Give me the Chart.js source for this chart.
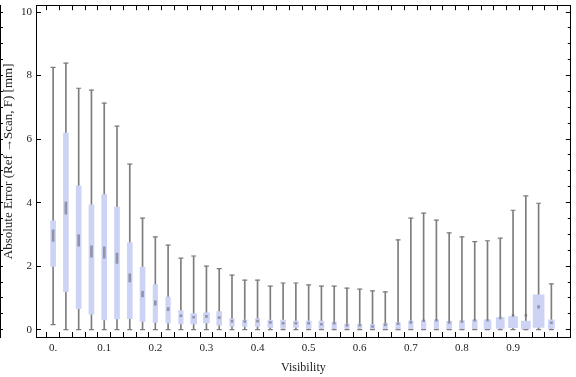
<!DOCTYPE html>
<html>
<head>
<meta charset="utf-8">
<script src="https://cdn.jsdelivr.net/npm/chart.js@4/dist/chart.umd.min.js"></script>
<style>
  html, body { margin: 0; padding: 0; background: #fff; }
  #wrap { width: 576px; height: 377px; }
</style>
</head>
<body>
<div id="wrap"><canvas id="c" width="576" height="377"></canvas></div>
<script>
// ---- data ----
const visibility = [0, 0.025, 0.05, 0.075, 0.1, 0.125, 0.15, 0.175, 0.2, 0.225,
  0.25, 0.275, 0.3, 0.325, 0.35, 0.375, 0.4, 0.425, 0.45, 0.475,
  0.5, 0.525, 0.55, 0.575, 0.6, 0.625, 0.65, 0.675, 0.7, 0.725,
  0.75, 0.775, 0.8, 0.825, 0.85, 0.875, 0.9, 0.925, 0.95, 0.975];
const whiskerLow = [0.16, 0, 0, 0, 0, 0, 0, 0, 0, 0,
  0, 0, 0, 0, 0, 0, 0, 0, 0, 0,
  0, 0, 0, 0, 0, 0, 0, 0, 0, 0,
  0, 0, 0, 0, 0, 0, 0, 0, 0, 0];
const quartile1 = [1.99, 1.20, 0.66, 0.49, 0.31, 0.34, 0.35, 0.26, 0.23, 0.21,
  0.18, 0.18, 0.21, 0.14, 0.10, 0.10, 0.10, 0.07, 0.04, 0.07,
  0.04, 0.04, 0.04, 0.04, 0.04, 0.03, 0.02, 0.02, 0.02, 0.02,
  0.02, 0.02, 0.02, 0.02, 0.02, 0.04, 0.06, 0.00, 0.07, 0.04];
const median = [2.96, 3.83, 2.81, 2.46, 2.43, 2.25, 1.63, 1.12, 0.84, 0.65,
  0.44, 0.39, 0.42, 0.38, 0.27, 0.26, 0.27, 0.23, 0.20, 0.20,
  0.20, 0.17, 0.20, 0.14, 0.14, 0.10, 0.16, 0.19, 0.23, 0.28,
  0.30, 0.23, 0.26, 0.30, 0.30, 0.37, 0.45, 0.45, 0.72, 0.22];
const quartile3 = [3.43, 6.19, 4.53, 3.93, 4.25, 3.86, 2.74, 1.97, 1.42, 1.03,
  0.60, 0.51, 0.53, 0.57, 0.35, 0.30, 0.35, 0.30, 0.30, 0.27,
  0.27, 0.27, 0.24, 0.18, 0.18, 0.17, 0.20, 0.23, 0.28, 0.28,
  0.31, 0.26, 0.28, 0.31, 0.31, 0.38, 0.41, 0.27, 1.10, 0.31];
const whiskerHigh = [8.26, 8.39, 7.60, 7.54, 7.13, 6.41, 5.21, 3.51, 2.92, 2.66,
  2.25, 2.32, 2.00, 1.92, 1.72, 1.56, 1.56, 1.37, 1.47, 1.47,
  1.41, 1.37, 1.37, 1.31, 1.28, 1.22, 1.19, 2.83, 3.51, 3.67,
  3.45, 3.05, 2.92, 2.77, 2.80, 2.88, 3.76, 4.21, 3.98, 1.44];
const notchHalf = [0.18, 0.19, 0.18, 0.18, 0.18, 0.16, 0.13, 0.09, 0.07, 0.05,
  0.03, 0.03, 0.03, 0.03, 0.03, 0.03, 0.03, 0.03, 0.03, 0.03,
  0.03, 0.03, 0.03, 0.03, 0.03, 0.03, 0.03, 0.03, 0.03, 0.03,
  0.03, 0.03, 0.03, 0.03, 0.03, 0.03, 0.03, 0.03, 0.04, 0.03];
const xTickValues = [0, 0.1, 0.2, 0.3, 0.4, 0.5, 0.6, 0.7, 0.8, 0.9];
const xTickLabels = ["0.", "0.1", "0.2", "0.3", "0.4", "0.5", "0.6", "0.7", "0.8", "0.9"];
const yMajorValues = [0, 2, 4, 6, 8, 10];
const yMajorLabels = ["0", "2", "4", "6", "8", "10"];
const yMinorValues = [0, 0.5, 1, 1.5, 2, 2.5, 3, 3.5, 4, 4.5, 5, 5.5, 6, 6.5, 7, 7.5, 8, 8.5, 9, 9.5, 10];
const xTitle = 'Visibility';
const yTitle = 'Absolute Error (Ref \u2192Scan, F) [mm]';

// ---- styling ----
const SERIF = "'Liberation Serif', 'Times New Roman', serif";
const WHISKER = 'rgb(125,125,125)';
const BOXFILL = 'rgb(205,211,245)';
const NOTCH = 'rgba(105,105,120,0.6)';
// drawn width (px) of each box, as measured on the reference
const boxWidthPx = [5, 5, 5, 5, 5, 5, 5, 5, 4.5, 4.5,
  4.5, 6, 6, 5, 4.5, 4.5, 4.5, 5, 5, 5,
  5, 5, 4.5, 4.5, 4.5, 4.5, 4.5, 4.5, 4.5, 4.5,
  4.5, 5, 5, 5, 7, 8, 9, 9, 11, 6];

const pairs = (lo, hi, keep) => visibility.map((v, i) =>
  ({ x: v, y: (!keep || keep(i)) ? [lo[i], hi[i]] : null }));
const points = (arr) => visibility.map((v, i) => ({ x: v, y: arr[i] }));
const notchLo = median.map((m, i) => m - notchHalf[i]);
const notchHi = median.map((m, i) => m + notchHalf[i]);

const boxDatasets = [...new Set(boxWidthPx)].map(w => ({
  type: 'bar', data: pairs(quartile1, quartile3, i => boxWidthPx[i] === w),
  backgroundColor: BOXFILL, barThickness: w, grouped: false, borderWidth: 0, order: 3
}));

const setTicks = (vals) => (s) => { s.ticks = vals.map(v => ({ value: v })); };
const fixSize = (prop, n) => (s) => {
  s[prop] = n;
  s.paddingTop = 0; s.paddingBottom = 0; s.paddingLeft = 0; s.paddingRight = 0;
};

const frameGrid = (len) => ({
  display: true, drawOnChartArea: false, drawTicks: true,
  tickLength: -len, tickColor: '#000', tickWidth: 1
});
const frameBorder = { display: true, color: '#000', width: 1 };

const XMIN = -0.0335, XMAX = 1.013, YMIN = -0.23, YMAX = 10.215;

new Chart(document.getElementById('c'), {
  type: 'bar',
  data: {
    datasets: [
      { type: 'bar', data: pairs(whiskerLow, whiskerHigh), backgroundColor: WHISKER,
        barThickness: 1, grouped: false, borderWidth: 0, order: 4 },
      ...boxDatasets,
      { type: 'bar', data: pairs(notchLo, notchHi), backgroundColor: NOTCH,
        barThickness: 2, grouped: false, borderWidth: 0, order: 2 },
      { type: 'line', data: points(whiskerHigh), showLine: false, pointStyle: 'line',
        pointRadius: 2.5, borderColor: WHISKER, pointBorderWidth: 1.2, order: 1 },
      { type: 'line', data: points(whiskerLow), showLine: false, pointStyle: 'line',
        pointRadius: 2.5, borderColor: WHISKER, pointBorderWidth: 1.2, order: 1 }
    ]
  },
  options: {
    responsive: false,
    animation: false,
    devicePixelRatio: 1,
    layout: { padding: 0 },
    plugins: { legend: { display: false }, tooltip: { enabled: false } },
    scales: {
      x: {
        type: 'linear', position: 'bottom', min: XMIN, max: XMAX, offset: false,
        afterBuildTicks: setTicks(visibility),
        afterFit: fixSize('height', 40),
        grid: frameGrid(5), border: frameBorder,
        ticks: {
          autoSkip: false, maxRotation: 0, padding: 10, color: '#222',
          font: { family: SERIF, size: 11 },
          callback: (v) => {
            const k = xTickValues.findIndex(t => Math.abs(t - v) < 1e-6);
            return k >= 0 ? xTickLabels[k] : '';
          }
        },
        title: { display: true, text: xTitle, color: '#222',
          font: { family: SERIF, size: 12 }, padding: { top: 0, bottom: 2 } }
      },
      xTop: {
        type: 'linear', position: 'top', min: XMIN, max: XMAX, offset: false,
        afterBuildTicks: setTicks(visibility),
        afterFit: fixSize('height', 4),
        grid: frameGrid(5), border: frameBorder,
        ticks: { display: false, autoSkip: false }
      },
      y: {
        type: 'linear', position: 'left', min: YMIN, max: YMAX, weight: 1,
        afterBuildTicks: setTicks(yMajorValues),
        afterFit: fixSize('width', 36),
        grid: frameGrid(5), border: frameBorder,
        ticks: {
          autoSkip: false, padding: 9, color: '#222',
          font: { family: SERIF, size: 11 },
          callback: (v) => {
            const k = yMajorValues.findIndex(t => Math.abs(t - v) < 1e-6);
            return k >= 0 ? yMajorLabels[k] : '';
          }
        },
        title: { display: true, text: '\u2003\u2002' + yTitle, color: '#222',
          font: { family: SERIF, size: 13 }, padding: { top: 1, bottom: 0 } }
      },
      yMinor: {
        type: 'linear', position: 'left', min: YMIN, max: YMAX, weight: 2,
        afterBuildTicks: setTicks(yMinorValues),
        afterFit: fixSize('width', 0),
        grid: frameGrid(3), border: frameBorder,
        ticks: { display: false, autoSkip: false }
      },
      yRight: {
        type: 'linear', position: 'right', min: YMIN, max: YMAX,
        afterBuildTicks: setTicks(yMajorValues),
        afterFit: fixSize('width', 0),
        grid: frameGrid(5), border: frameBorder,
        ticks: { display: false, autoSkip: false }
      },
      yRightMinor: {
        type: 'linear', position: 'right', min: YMIN, max: YMAX,
        afterBuildTicks: setTicks(yMinorValues),
        afterFit: fixSize('width', 0),
        grid: frameGrid(3), border: frameBorder,
        ticks: { display: false, autoSkip: false }
      }
    }
  }
});
</script>
</body>
</html>
